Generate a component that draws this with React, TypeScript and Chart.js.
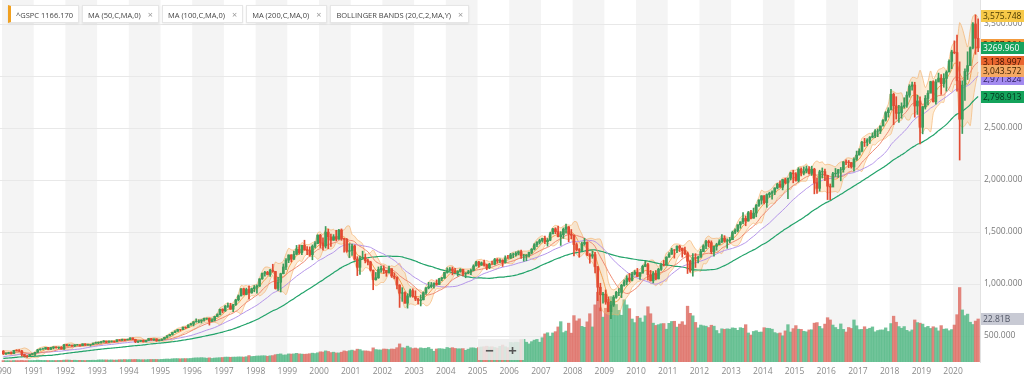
import React, { useEffect, useRef } from 'react';
import { Chart, registerables } from 'chart.js';

Chart.register(...registerables);
Chart.defaults.font.family = '"Open Sans", "Noto Sans", sans-serif';

const FIRST_YEAR = 1990;

// monthly closes 1986-1989 (history needed by the moving averages)
const warmupCloses = [
  211.8, 226.9, 238.9, 235.5, 247.4, 250.8, 236.1, 252.9, 231.3, 244.0, 249.2, 242.2,
  274.1, 284.2, 291.7, 288.4, 290.1, 304.0, 318.7, 329.8, 321.8, 251.8, 230.3, 247.1,
  257.1, 267.8, 258.9, 261.3, 262.2, 273.5, 272.0, 261.5, 271.9, 279.0, 273.7, 277.7,
  297.5, 288.9, 294.9, 309.6, 320.5, 318.0, 346.1, 351.5, 349.2, 340.4, 346.0, 353.4,
];

const closes = [
  329.1, 331.9, 339.9, 330.8, 361.2, 358.0, 356.2, 322.6, 306.1, 304.0, 322.2, 330.2,
  343.9, 367.1, 375.2, 375.3, 389.8, 371.2, 387.8, 395.4, 387.9, 392.5, 375.2, 417.1,
  408.8, 412.7, 403.7, 415.0, 415.4, 408.1, 424.2, 414.0, 417.8, 418.7, 431.4, 435.7,
  438.8, 443.4, 451.7, 440.2, 450.2, 450.5, 448.1, 463.6, 458.9, 467.8, 461.8, 466.5,
  481.6, 467.1, 445.8, 450.9, 456.5, 444.3, 458.3, 475.5, 462.7, 472.4, 453.7, 459.3,
  470.4, 487.4, 500.7, 514.7, 533.4, 544.8, 562.1, 561.9, 584.4, 581.5, 605.4, 615.9,
  636.0, 640.4, 645.5, 654.2, 669.1, 670.6, 640.0, 652.0, 687.3, 705.3, 757.0, 740.7,
  786.2, 790.8, 757.1, 801.3, 848.3, 885.1, 954.3, 899.5, 947.3, 914.6, 955.4, 970.4,
  980.3, 1049.3, 1101.8, 1111.8, 1090.8, 1133.8, 1120.7, 957.3, 1017.0, 1098.7, 1163.6, 1229.2,
  1279.6, 1238.3, 1286.4, 1335.2, 1301.8, 1372.7, 1328.7, 1320.4, 1282.7, 1362.9, 1388.9, 1469.3,
  1394.5, 1366.4, 1498.6, 1452.4, 1420.6, 1454.6, 1430.8, 1517.7, 1436.5, 1429.4, 1315.0, 1320.3,
  1366.0, 1239.9, 1160.3, 1249.5, 1255.8, 1224.4, 1211.2, 1133.6, 1040.9, 1059.8, 1139.5, 1148.1,
  1130.2, 1106.7, 1147.4, 1076.9, 1067.1, 989.8, 911.6, 916.1, 815.3, 885.8, 936.3, 879.8,
  855.7, 841.2, 848.2, 916.9, 963.6, 974.5, 990.3, 1008.0, 996.0, 1050.7, 1058.2, 1111.9,
  1131.1, 1144.9, 1126.2, 1107.3, 1120.7, 1140.8, 1101.7, 1104.2, 1114.6, 1130.2, 1173.8, 1211.9,
  1181.3, 1203.6, 1180.6, 1156.9, 1191.5, 1191.3, 1234.2, 1220.3, 1228.8, 1207.0, 1249.5, 1248.3,
  1280.1, 1280.7, 1294.8, 1310.6, 1270.1, 1270.2, 1276.7, 1303.8, 1335.9, 1377.9, 1400.6, 1418.3,
  1438.2, 1406.8, 1420.9, 1482.4, 1530.6, 1503.4, 1455.3, 1474.0, 1526.8, 1549.4, 1481.1, 1468.4,
  1378.6, 1330.6, 1322.7, 1385.6, 1400.4, 1280.0, 1267.4, 1282.8, 1166.4, 968.8, 896.2, 903.3,
  825.9, 735.1, 797.9, 872.8, 919.1, 919.3, 987.5, 1020.6, 1057.1, 1036.2, 1095.6, 1115.1,
  1073.9, 1104.5, 1169.4, 1186.7, 1089.4, 1030.7, 1101.6, 1049.3, 1141.2, 1183.3, 1180.6, 1257.6,
  1286.1, 1327.2, 1325.8, 1363.6, 1345.2, 1320.6, 1292.3, 1218.9, 1131.4, 1253.3, 1247.0, 1257.6,
  1312.4, 1365.7, 1408.5, 1397.9, 1310.3, 1362.2, 1379.3, 1406.6, 1440.7, 1412.2, 1416.2, 1426.2,
  1498.1, 1514.7, 1569.2, 1597.6, 1630.7, 1606.3, 1685.7, 1633.0, 1681.6, 1756.5, 1805.8, 1848.4,
  1782.6, 1859.5, 1872.3, 1884.0, 1923.6, 1960.2, 1930.7, 2003.4, 1972.3, 2018.1, 2067.6, 2058.9,
  1995.0, 2104.5, 2067.9, 2085.5, 2107.4, 2063.1, 2103.8, 1972.2, 1920.0, 2079.4, 2080.4, 2043.9,
  1940.2, 1932.2, 2059.7, 2065.3, 2097.0, 2098.9, 2173.6, 2171.0, 2168.3, 2126.2, 2198.8, 2238.8,
  2278.9, 2363.6, 2362.7, 2384.2, 2411.8, 2423.4, 2470.3, 2471.7, 2519.4, 2575.3, 2647.6, 2673.6,
  2823.8, 2713.8, 2640.9, 2648.1, 2705.3, 2718.4, 2816.3, 2901.5, 2914.0, 2711.7, 2760.2, 2506.9,
  2704.1, 2784.5, 2834.4, 2945.8, 2752.1, 2941.8, 2980.4, 2926.5, 2976.7, 3037.6, 3141.0, 3230.8,
  3225.5, 2954.2, 2584.6, 2912.4, 3044.3, 3100.3, 3271.1, 3500.3, 3363.0, 3270.0,
];

const highs = [
  360, 337, 344, 347, 362, 368, 369, 362, 326, 315, 324, 332,
  344, 372, 378, 384, 390, 391, 390, 397, 396, 395, 398, 417,
  420, 418, 413, 417, 420, 416, 424, 425, 423, 419, 431, 442,
  443, 448, 456, 451, 454, 453, 451, 464, 465, 470, 469, 471,
  482, 482, 469, 453, 458, 462, 459, 476, 476, 474, 473, 465,
  472, 488, 504, 516, 534, 551, 564, 563, 586, 588, 608, 622,
  639, 665, 656, 656, 673, 673, 673, 667, 690, 714, 758, 762,
  794, 817, 815, 805, 851, 895, 955, 961, 960, 983, 961, 986,
  992, 1051, 1106, 1123, 1122, 1142, 1190, 1122, 1064, 1104, 1193, 1244,
  1280, 1282, 1316, 1371, 1376, 1373, 1421, 1360, 1357, 1376, 1408, 1474,
  1478, 1445, 1553, 1527, 1481, 1475, 1517, 1525, 1530, 1440, 1438, 1389,
  1383, 1376, 1263, 1269, 1316, 1287, 1239, 1219, 1134, 1111, 1164, 1173,
  1176, 1131, 1173, 1147, 1107, 1067, 994, 965, 925, 907, 952, 954,
  935, 864, 895, 924, 965, 1016, 1015, 1012, 1040, 1054, 1063, 1112,
  1155, 1159, 1163, 1151, 1128, 1147, 1141, 1109, 1131, 1143, 1185, 1218,
  1217, 1212, 1229, 1192, 1199, 1220, 1246, 1245, 1243, 1233, 1271, 1276,
  1295, 1297, 1310, 1318, 1326, 1285, 1283, 1307, 1340, 1389, 1407, 1431,
  1441, 1462, 1438, 1498, 1535, 1541, 1556, 1504, 1539, 1576, 1553, 1524,
  1471, 1396, 1341, 1404, 1440, 1405, 1293, 1314, 1304, 1168, 1007, 919,
  943, 876, 833, 889, 930, 956, 997, 1039, 1080, 1101, 1113, 1130,
  1150, 1113, 1181, 1220, 1200, 1131, 1120, 1129, 1151, 1196, 1227, 1263,
  1302, 1344, 1332, 1366, 1371, 1345, 1356, 1308, 1230, 1293, 1292, 1269,
  1333, 1378, 1420, 1422, 1415, 1364, 1392, 1426, 1475, 1465, 1434, 1448,
  1509, 1530, 1570, 1598, 1687, 1654, 1698, 1709, 1730, 1765, 1813, 1849,
  1850, 1867, 1883, 1897, 1925, 1968, 1991, 2006, 2019, 2019, 2075, 2094,
  2072, 2119, 2117, 2126, 2135, 2130, 2133, 2113, 2021, 2094, 2116, 2104,
  2044, 1962, 2073, 2111, 2103, 2121, 2178, 2194, 2188, 2169, 2214, 2278,
  2301, 2371, 2401, 2398, 2418, 2454, 2484, 2491, 2520, 2582, 2658, 2695,
  2873, 2836, 2801, 2718, 2742, 2791, 2848, 2916, 2941, 2940, 2815, 2800,
  2708, 2813, 2861, 2950, 2955, 2965, 3028, 3014, 3022, 3050, 3155, 3248,
  3338, 3394, 3136, 2954, 3068, 3233, 3280, 3515, 3588, 3550,
];

const lows = [
  322, 322, 331, 327, 330, 356, 352, 307, 299, 295, 302, 322,
  312, 341, 363, 371, 374, 369, 370, 376, 383, 378, 374, 372,
  405, 407, 400, 398, 411, 403, 407, 409, 413, 402, 417, 430,
  427, 431, 440, 434, 438, 441, 440, 446, 454, 458, 455, 462,
  464, 464, 436, 436, 445, 442, 444, 456, 460, 458, 449, 453,
  457, 469, 482, 501, 509, 531, 545, 549, 561, 572, 580, 603,
  597, 633, 627, 625, 642, 659, 605, 639, 645, 685, 703, 723,
  737, 774, 756, 733, 794, 837, 885, 894, 896, 855, 911, 925,
  912, 977, 1045, 1076, 1087, 1074, 1114, 952, 939, 923, 1098, 1137,
  1205, 1212, 1236, 1283, 1287, 1282, 1325, 1281, 1268, 1233, 1348, 1387,
  1350, 1325, 1346, 1339, 1361, 1420, 1416, 1431, 1420, 1305, 1305, 1254,
  1274, 1229, 1081, 1091, 1246, 1203, 1184, 1125, 945, 1037, 1054, 1114,
  1101, 1074, 1106, 1063, 1049, 953, 775, 833, 815, 768, 873, 872,
  840, 806, 789, 847, 902, 953, 962, 960, 990, 994, 1031, 1053,
  1105, 1123, 1088, 1107, 1076, 1113, 1078, 1060, 1099, 1090, 1127, 1173,
  1163, 1180, 1171, 1137, 1147, 1191, 1184, 1201, 1206, 1169, 1201, 1246,
  1245, 1253, 1268, 1280, 1245, 1219, 1224, 1261, 1290, 1327, 1360, 1385,
  1403, 1389, 1364, 1416, 1482, 1484, 1453, 1371, 1439, 1489, 1406, 1435,
  1271, 1317, 1257, 1320, 1373, 1272, 1200, 1247, 1107, 840, 742, 815,
  805, 734, 667, 784, 862, 889, 869, 979, 991, 1020, 1029, 1086,
  1071, 1045, 1106, 1166, 1040, 1028, 1011, 1040, 1049, 1131, 1173, 1186,
  1257, 1286, 1249, 1302, 1312, 1258, 1283, 1101, 1114, 1075, 1159, 1203,
  1258, 1311, 1340, 1358, 1292, 1267, 1325, 1378, 1397, 1403, 1343, 1398,
  1426, 1485, 1501, 1536, 1581, 1560, 1604, 1627, 1633, 1646, 1746, 1768,
  1770, 1737, 1834, 1815, 1859, 1915, 1930, 1905, 1964, 1821, 2001, 1973,
  1988, 1981, 2039, 2049, 2068, 2056, 2044, 1867, 1872, 1893, 2019, 1993,
  1812, 1810, 1937, 2034, 2025, 1992, 2075, 2148, 2119, 2114, 2084, 2188,
  2245, 2271, 2322, 2329, 2353, 2405, 2407, 2417, 2447, 2520, 2566, 2605,
  2682, 2533, 2586, 2553, 2594, 2692, 2699, 2796, 2864, 2604, 2631, 2347,
  2444, 2682, 2722, 2849, 2750, 2729, 2952, 2822, 2892, 2855, 3051, 3070,
  3214, 2855, 2192, 2447, 2766, 2966, 3115, 3260, 3209, 3234,
];

// volume in billions (as drawn)
const volumes = [
  0.75, 0.7, 0.7, 0.65, 0.8, 0.75, 0.75, 0.85, 0.7, 0.75, 0.75, 0.75,
  0.85, 1.0, 0.9, 0.85, 0.85, 0.8, 0.8, 0.8, 0.8, 0.85, 0.85, 1.0,
  1.05, 1.0, 0.9, 0.95, 0.85, 0.9, 0.85, 0.8, 0.9, 0.9, 0.95, 0.9,
  1.1, 1.15, 1.1, 1.1, 1.05, 1.1, 1.0, 1.05, 1.2, 1.2, 1.3, 1.2,
  1.3, 1.3, 1.35, 1.3, 1.2, 1.2, 1.2, 1.3, 1.35, 1.35, 1.35, 1.3,
  1.4, 1.5, 1.6, 1.5, 1.7, 1.8, 1.8, 1.7, 1.8, 1.8, 1.8, 1.9,
  2.1, 2.2, 2.2, 2.3, 2.2, 2.0, 2.2, 1.9, 2.1, 2.2, 2.3, 2.4,
  2.6, 2.6, 2.5, 2.6, 2.6, 2.7, 2.7, 2.6, 2.8, 3.4, 2.9, 3.0,
  3.2, 3.2, 3.3, 3.3, 3.0, 3.3, 3.4, 3.9, 4.1, 4.3, 3.7, 3.8,
  4.3, 4.2, 4.3, 4.6, 4.3, 4.2, 4.1, 4.2, 4.4, 4.7, 4.5, 4.9,
  5.4, 5.3, 5.9, 5.6, 5.0, 5.2, 4.8, 4.8, 5.2, 5.9, 5.6, 6.0,
  6.3, 5.9, 6.8, 6.6, 5.9, 5.9, 5.8, 5.5, 7.5, 6.6, 6.4, 6.4,
  6.9, 6.8, 6.6, 6.9, 6.8, 7.6, 9.6, 7.6, 7.4, 8.4, 7.6, 7.1,
  7.4, 7.0, 7.5, 7.2, 7.3, 7.7, 6.8, 5.7, 6.9, 7.1, 7.0, 6.8,
  7.7, 7.3, 7.6, 7.2, 7.0, 7.0, 7.1, 6.2, 6.8, 7.5, 7.5, 7.2,
  7.7, 8.0, 8.1, 8.4, 8.0, 8.1, 7.7, 7.4, 8.3, 9.0, 8.1, 7.6,
  10.4, 10.2, 10.5, 10.4, 11.9, 12.0, 10.5, 9.6, 10.8, 11.6, 12.0, 10.5,
  12.9, 14.9, 15.5, 13.7, 15.4, 16.1, 18.6, 21.4, 15.6, 16.4, 20.6, 15.3,
  24.6, 21.8, 22.9, 18.9, 18.4, 21.3, 25.6, 18.6, 30.3, 37.0, 28.7, 23.8,
  28.5, 33.3, 34.7, 31.5, 30.5, 27.4, 24.8, 33.0, 30.3, 28.3, 22.8, 20.9,
  24.2, 23.3, 21.2, 24.5, 29.3, 25.6, 20.6, 19.4, 19.8, 20.3, 20.4, 17.4,
  20.5, 21.5, 21.6, 18.5, 20.1, 21.4, 19.6, 29.6, 25.8, 24.5, 21.0, 18.1,
  19.6, 19.2, 19.0, 18.3, 19.5, 19.0, 16.7, 15.1, 17.6, 17.3, 17.6, 17.4,
  18.1, 17.9, 16.8, 18.2, 17.9, 19.8, 15.4, 14.3, 16.2, 16.6, 15.8, 15.9,
  18.2, 17.9, 17.8, 17.4, 15.6, 15.1, 15.4, 13.9, 16.5, 19.8, 15.9, 17.7,
  19.3, 17.4, 17.3, 16.3, 16.0, 17.0, 17.1, 20.6, 20.9, 18.9, 17.7, 20.1,
  23.5, 22.3, 19.6, 18.3, 17.3, 20.2, 17.3, 15.9, 18.3, 17.8, 22.3, 19.2,
  17.2, 17.3, 18.7, 17.4, 17.9, 18.6, 16.0, 16.7, 17.0, 17.0, 18.1, 16.2,
  20.4, 24.3, 21.1, 18.8, 17.9, 18.8, 16.8, 16.1, 17.0, 22.3, 20.9, 20.6,
  20.1, 18.3, 18.9, 17.8, 18.7, 18.1, 16.5, 19.3, 17.4, 17.6, 16.6, 17.2,
  19.6, 25.1, 39.5, 27.6, 24.6, 25.4, 21.1, 19.9, 21.7, 22.81,
];

const stripeYears = [1990, 1992, 1994, 1996, 1998, 2000, 2002, 2004, 2006, 2008, 2010, 2012, 2014, 2016, 2018, 2020];
const priceTicks = [500, 1000, 1500, 2000, 2500, 3000, 3500];

const legendLabels = ['MA (50,C,MA,0)', 'MA (100,C,MA,0)', 'MA (200,C,MA,0)', 'BOLLINGER BANDS (20,C,2,MA,Y)'];
const symbolLabel = '^GSPC 1166.170';

const priceTags = [
  { value: 3300.0, text: '3,357.264', bg: '#f39a3c', fg: '#3a2000' },
  { value: 2971.0, text: '2,971.824', bg: '#a38af0', fg: '#2a1a5a' },
  { value: 3575.748, text: '3,575.748', bg: '#f7c948', fg: '#4a3a00' },
  { value: 3138.997, text: '3,138.997', bg: '#e9652e', fg: '#3a1000' },
  { value: 3043.572, text: '3,043.572', bg: '#f5a863', fg: '#3a2000' },
  { value: 2798.913, text: '2,798.913', bg: '#14a35b', fg: '#03301a' },
  { value: 3269.96, text: '3269.960', bg: '#17a35e', fg: '#ffffff' },
];
const volumeTag = { value: 22.81, text: '22.81B', bg: '#c8cad4', fg: '#525766' };

const MA_FAST = 12;   // ~50 weeks
const MA_MID = 23;    // ~100 weeks
const MA_SLOW = 46;   // ~200 weeks
const BB_LEN = 5;     // ~20 weeks
const BB_K = 2;

const X_MIN = 1989.937;
const X_MAX = 2020.85;
const Y_MIN = 250;
const Y_MAX = 3731;
const VOL_MAX = 192;

const UP = '#3c9c5c';
const DOWN = '#e24a32';

function App() {
  const ref = useRef<HTMLCanvasElement | null>(null);

  useEffect(() => {
    if (!ref.current) return;
    const all = [...warmupCloses, ...closes];
    const W = warmupCloses.length;
    const xs = closes.map((_, i) => FIRST_YEAR + (i + 0.5) / 12);
    const opens = closes.map((_, i) => all[W + i - 1]);
    const up = closes.map((c, i) => c >= opens[i]);

    const sma = (n: number) => closes.map((_, i) => {
      let s = 0;
      for (let k = W + i - n + 1; k <= W + i; k++) s += all[k];
      return { x: xs[i], y: s / n };
    });
    const bbMid: any[] = [], bbUp: any[] = [], bbLo: any[] = [];
    closes.forEach((_, i) => {
      const win = all.slice(W + i - BB_LEN + 1, W + i + 1);
      const m = win.reduce((a, b) => a + b, 0) / win.length;
      const sd = Math.sqrt(win.reduce((a, b) => a + (b - m) * (b - m), 0) / win.length);
      bbMid.push({ x: xs[i], y: m });
      bbUp.push({ x: xs[i], y: m + BB_K * sd });
      bbLo.push({ x: xs[i], y: m - BB_K * sd });
    });

    const stripes = {
      id: 'stripes',
      beforeDraw(chart: any) {
        const { ctx, chartArea: a, scales } = chart;
        ctx.save();
        ctx.fillStyle = '#f4f4f4';
        stripeYears.forEach((yr) => {
          const l = Math.max(a.left, scales.x.getPixelForValue(yr));
          const r = Math.min(a.right, scales.x.getPixelForValue(yr + 1));
          if (r > l) ctx.fillRect(l, a.top, r - l, a.bottom - a.top);
        });
        ctx.restore();
      },
    };

    const tags = {
      id: 'tags',
      afterDraw(chart: any) {
        const { ctx, chartArea: a, scales } = chart;
        ctx.save();
        ctx.font = '8.5px "Open Sans", sans-serif';
        ctx.textBaseline = 'middle';
        const draw = (y: number, t: any) => {
          const yy = Math.round(y);
          ctx.fillStyle = t.bg;
          ctx.fillRect(a.right + 1, yy - 6, 60, 12);
          ctx.fillStyle = t.fg;
          ctx.fillText(t.text, a.right + 3, yy + 0.5);
        };
        priceTags.forEach((t) => draw(scales.y.getPixelForValue(t.value), t));
        draw(scales.yv.getPixelForValue(volumeTag.value), volumeTag);
        ctx.restore();
      },
    };

    const chart = new Chart(ref.current, {
      type: 'bar',
      data: {
        datasets: [
          {
            type: 'bar', label: 'body', yAxisID: 'y', order: 0, grouped: false,
            data: closes.map((c, i) => ({ x: xs[i], y: [opens[i], c] })) as any,
            backgroundColor: up.map((u) => (u ? UP : DOWN)),
            barThickness: 2,
          },
          {
            type: 'bar', label: 'wick', yAxisID: 'y', order: 1, grouped: false,
            data: closes.map((_, i) => ({ x: xs[i], y: [lows[i], highs[i]] })) as any,
            backgroundColor: up.map((u) => (u ? UP : DOWN)),
            barThickness: 1,
          },
          {
            type: 'bar', label: 'volume', yAxisID: 'yv', order: 20, grouped: false,
            data: volumes.map((v, i) => ({ x: xs[i], y: v })) as any,
            backgroundColor: up.map((u) => (u ? 'rgba(88,186,136,0.85)' : 'rgba(222,112,102,0.85)')),
            barThickness: 2.64,
          },
          {
            type: 'line', label: 'bbUp', yAxisID: 'y', order: 8, data: bbUp,
            borderColor: 'rgba(244,170,95,0.6)', borderWidth: 1, pointRadius: 0, tension: 0.25,
            fill: { target: 4 }, backgroundColor: 'rgba(252,196,132,0.33)',
          },
          {
            type: 'line', label: 'bbLo', yAxisID: 'y', order: 8, data: bbLo,
            borderColor: 'rgba(244,170,95,0.6)', borderWidth: 1, pointRadius: 0, tension: 0.25, fill: false,
          },
          {
            type: 'line', label: 'bbMid', yAxisID: 'y', order: 6, data: bbMid,
            borderColor: 'rgba(240,150,60,0.85)', borderWidth: 1, pointRadius: 0, tension: 0.25, fill: false,
          },
          {
            type: 'line', label: 'ma50', yAxisID: 'y', order: 5, data: sma(MA_FAST),
            borderColor: '#ef8a72', borderWidth: 1, pointRadius: 0, tension: 0.3, fill: false,
          },
          {
            type: 'line', label: 'ma100', yAxisID: 'y', order: 5, data: sma(MA_MID),
            borderColor: '#b596ea', borderWidth: 1, pointRadius: 0, tension: 0.3, fill: false,
          },
          {
            type: 'line', label: 'ma200', yAxisID: 'y', order: 5, data: sma(MA_SLOW),
            borderColor: '#22a36a', borderWidth: 1.2, pointRadius: 0, tension: 0.3, fill: false,
          },
        ],
      },
      options: {
        responsive: false,
        animation: false,
        layout: { padding: 0 },
        plugins: { legend: { display: false }, tooltip: { enabled: false } },
        scales: {
          x: {
            type: 'linear', min: X_MIN, max: X_MAX, offset: false,
            grid: { display: false, drawTicks: false },
            border: { display: false },
            ticks: {
              stepSize: 1, autoSkip: false, includeBounds: false, maxRotation: 0, maxTicksLimit: 50,
              padding: 4, color: '#8a8a8a', font: { size: 8.5 },
              callback: (v: any) => String(v),
            },
            afterFit: (s: any) => { s.height = 21; s.paddingLeft = 0; s.paddingRight = 0; },
          },
          y: {
            type: 'linear', position: 'right', min: Y_MIN, max: Y_MAX,
            grid: { color: '#e8e8e8', drawTicks: false },
            border: { display: true, color: '#e2e2e2' },
            afterBuildTicks: (s: any) => { s.ticks = priceTicks.map((v) => ({ value: v })); },
            ticks: {
              padding: 4, color: '#7a7a7a', font: { size: 8.5 },
              callback: (v: any) => Number(v).toLocaleString('en-US', { minimumFractionDigits: 3, maximumFractionDigits: 3 }),
            },
            afterFit: (s: any) => { s.width = 44; s.paddingTop = 0; s.paddingBottom = 0; },
          },
          yv: { type: 'linear', display: false, min: 0, max: VOL_MAX },
        },
      } as any,
      plugins: [stripes, tags],
    });
    return () => chart.destroy();
  }, []);

  const chip: React.CSSProperties = {
    background: '#fff', border: '1px solid #e6e6e6', boxShadow: '0 1px 2px rgba(0,0,0,0.08)',
    height: 18, lineHeight: '18px', padding: '0 5px', fontSize: 7.5, color: '#444',
    fontFamily: '"Open Sans", sans-serif', whiteSpace: 'nowrap', boxSizing: 'border-box',
  };

  return (
    <div style={{ position: 'absolute', left: 0, top: 0, width: 1024, height: 383, overflow: 'hidden', background: '#fff' }}>
      <canvas ref={ref} width={1024} height={383} style={{ position: 'absolute', left: 0, top: 0 }} />
      <div style={{ position: 'absolute', left: 8, top: 5, display: 'flex', gap: 3 }}>
        <div style={{ ...chip, borderLeft: '3px solid #f0a020' }}>{symbolLabel}</div>
        {legendLabels.map((l) => (
          <div key={l} style={chip}>
            {l}<span style={{ marginLeft: 7, color: '#999', fontSize: 9 }}>×</span>
          </div>
        ))}
      </div>
      <div style={{
        position: 'absolute', left: 478, top: 339, width: 46, height: 21, background: 'rgba(236,236,236,0.85)',
        display: 'flex', justifyContent: 'space-around', alignItems: 'center', color: '#555',
        fontFamily: '"Open Sans", sans-serif', fontSize: 15, fontWeight: 700,
      }}>
        <span>−</span><span>+</span>
      </div>
    </div>
  );
}

export default App;
